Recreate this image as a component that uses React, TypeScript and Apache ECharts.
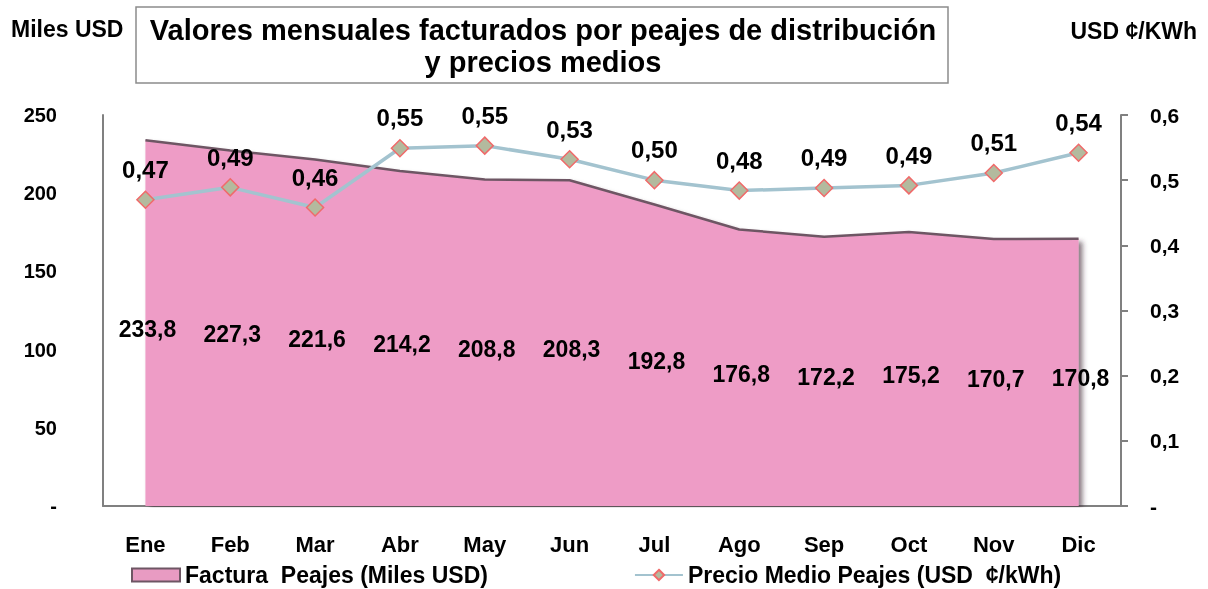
import React, { useEffect, useRef } from "react";
import * as echarts from "echarts";

const months = ["Ene", "Feb", "Mar", "Abr", "May", "Jun", "Jul", "Ago", "Sep", "Oct", "Nov", "Dic"];
const factura = [233.8, 227.3, 221.6, 214.2, 208.8, 208.3, 192.8, 176.8, 172.2, 175.2, 170.7, 170.8];
const precio = [0.47, 0.489, 0.458, 0.549, 0.553, 0.532, 0.5, 0.484, 0.488, 0.492, 0.511, 0.542];
const leftTicks = [0, 50, 100, 150, 200, 250];
const rightTicks = [0, 0.1, 0.2, 0.3, 0.4, 0.5, 0.6];

const FONT = "'Liberation Sans', Arial, sans-serif";

export default function App() {
  const ref = useRef<HTMLDivElement>(null);
  useEffect(() => {
    if (!ref.current) return;
    const chart = echarts.init(ref.current, null, { renderer: "svg" });
    const fmtComma = (v: number, d: number) => v.toFixed(d).replace(".", ",");
    chart.setOption({
      animation: false,
      textStyle: { fontFamily: FONT },
      grid: { left: 103, right: 87, top: 115, bottom: 83, containLabel: false },
      graphic: [
        {
          type: "rect",
          shape: { x: 136, y: 7, width: 812, height: 76 },
          style: { fill: "#fff", stroke: "#8c8c8c", lineWidth: 1.5 },
        },
        {
          type: "text",
          x: 543,
          y: 46,
          style: {
            text: "Valores mensuales facturados por peajes de distribución\ny precios medios",
            font: "bold 29px " + FONT,
            fill: "#000",
            align: "center",
            verticalAlign: "middle",
            lineHeight: 32,
          },
        },
        {
          type: "text",
          x: 11,
          y: 29,
          style: { text: "Miles USD", font: "bold 23px " + FONT, fill: "#000", verticalAlign: "middle" },
        },
        {
          type: "text",
          x: 1197,
          y: 31,
          style: { text: "USD ¢/KWh", font: "bold 23px " + FONT, fill: "#000", align: "right", verticalAlign: "middle" },
        },
      ],
      legend: {
        top: 562,
        left: 131,
        itemGap: 146,
        itemWidth: 48,
        itemHeight: 13,
        padding: 0,
        textStyle: { fontFamily: FONT, fontWeight: "bold", fontSize: 23, lineHeight: 26, color: "#000" },
        data: [
          {
            name: "Factura  Peajes (Miles USD)",
            icon: "rect",
            itemStyle: { color: "#E89BC2", borderColor: "#6e5664", borderWidth: 2 },
          },
          { name: "Precio Medio Peajes (USD  ¢/kWh)" },
        ],
      },
      xAxis: {
        type: "category",
        data: months,
        boundaryGap: true,
        axisLine: { lineStyle: { color: "#808080", width: 2 } },
        axisTick: { show: false },
        axisLabel: { color: "#000", fontWeight: "bold", fontSize: 22, margin: 27, fontFamily: FONT },
      },
      yAxis: [
        {
          type: "value",
          min: leftTicks[0],
          max: leftTicks[leftTicks.length - 1],
          interval: 50,
          splitLine: { show: false },
          axisLine: { show: true, lineStyle: { color: "#808080", width: 2 } },
          axisTick: { show: false },
          axisLabel: {
            color: "#000",
            fontWeight: "bold",
            fontSize: 20,
            margin: 46,
            fontFamily: FONT,
            formatter: (v: number) => (v === 0 ? "-" : String(v)),
          },
        },
        {
          type: "value",
          min: rightTicks[0],
          max: rightTicks[rightTicks.length - 1],
          interval: 0.1,
          splitLine: { show: false },
          axisLine: { show: true, lineStyle: { color: "#808080", width: 2 } },
          axisTick: { show: true, length: 7, inside: false, lineStyle: { color: "#808080", width: 2 } },
          axisLabel: {
            color: "#000",
            fontWeight: "bold",
            fontSize: 21,
            margin: 29,
            fontFamily: FONT,
            formatter: (v: number) => (v === 0 ? "-" : fmtComma(v, 1)),
          },
        },
      ],
      series: [
        {
          name: "Factura  Peajes (Miles USD)",
          type: "line",
          data: factura,
          yAxisIndex: 0,
          symbol: "none",
          itemStyle: { color: "#EE9CC6", borderColor: "#6e5664" },
          lineStyle: { color: "#6e5664", width: 2.5 },
          areaStyle: {
            color: "#EE9CC6",
            opacity: 1,
            shadowColor: "rgba(60,40,50,0.6)",
            shadowBlur: 5,
            shadowOffsetX: 4,
            shadowOffsetY: 3,
          },
          z: 1,
        },
        {
          name: "factura-labels",
          type: "scatter",
          yAxisIndex: 0,
          symbolSize: 1,
          itemStyle: { opacity: 0 },
          silent: true,
          data: factura.map((v, i) => [i, v / 2, v]),
          label: {
            show: true,
            position: "inside",
            offset: [2, 6],
            color: "#000",
            opacity: 1,
            fontWeight: "bold",
            fontSize: 23,
            fontFamily: FONT,
            formatter: (p: any) => fmtComma(p.data[2], 1),
          },
          z: 3,
        },
        {
          name: "Precio Medio Peajes (USD  ¢/kWh)",
          type: "line",
          data: precio,
          yAxisIndex: 1,
          symbol: "diamond",
          symbolSize: 17,
          lineStyle: { color: "#A3C3CF", width: 3.5 },
          itemStyle: { color: "#B3BA9E", borderColor: "#F06A6A", borderWidth: 1.5 },
          label: {
            show: true,
            position: "top",
            distance: 9,
            color: "#000",
            fontWeight: "bold",
            fontSize: 24,
            fontFamily: FONT,
            formatter: (p: any) => fmtComma(p.value, 2),
          },
          z: 4,
        },
      ],
    });
    return () => chart.dispose();
  }, []);
  return <div ref={ref} style={{ position: "fixed", left: 0, top: 0, width: 1208, height: 589 }} />;
}
